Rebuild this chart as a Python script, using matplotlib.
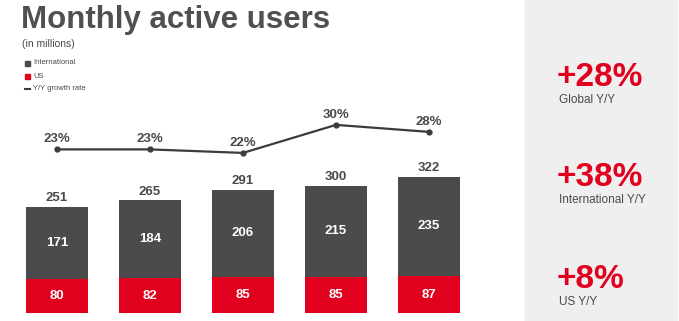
"""Monthly active users chart (stacked bars + Y/Y growth line)."""
import matplotlib
matplotlib.use("Agg")
import matplotlib.pyplot as plt
from matplotlib.patches import Rectangle

periods = ["Q1", "Q2", "Q3", "Q4", "Q5"]
us = [80, 82, 85, 85, 87]
international = [171, 184, 206, 215, 235]
totals = [251, 265, 291, 300, 322]
growth = [23, 23, 22, 30, 28]

side_values = ["+28%", "+38%", "+8%"]
side_labels = ["Global Y/Y", "International Y/Y", "US Y/Y"]

GRAY = "#4b4b4b"
RED = "#e1001e"
TEXT = "#4a4a4a"
FONT = ["Liberation Sans", "DejaVu Sans"]

W, H = 679, 321
fig = plt.figure(figsize=(W / 100, H / 100), dpi=100)
fig.patch.set_facecolor("white")


def fx(px):
    return px / W


def fy(py):
    return 1 - py / H


# right gray panel
fig.patches.append(Rectangle((fx(525), 0), fx(677) - fx(525), 1,
                             transform=fig.transFigure, color="#efefef", zorder=0))

# bar axes: 0..490 px wide, bottom at y=313, top at y=100
left, right, top, bottom = 0, 490, 100, 313
ax = fig.add_axes([fx(left), fy(bottom), fx(right - left), (bottom - top) / H])
ax.set_facecolor("none")
x = list(range(len(periods)))
ax.bar(x, us, width=0.656, color=RED, zorder=2)
ax.bar(x, international, bottom=us, width=0.656, color=GRAY, zorder=2)
ax.set_xlim(-57 / 93, (right - 57) / 93)
ax.set_ylim(0, (bottom - top) / 0.4237)
ax.axis("off")

for i in x:
    ax.text(i, us[i] / 2, str(us[i]), ha="center", va="center", color="white",
            fontsize=9.5, fontweight="bold", family=FONT)
    ax.text(i, us[i] + international[i] / 2, str(international[i]), ha="center",
            va="center", color="white", fontsize=9.5, fontweight="bold", family=FONT)
    ax.text(i, totals[i] + 6, str(totals[i]), ha="center", va="bottom", color=TEXT,
            fontsize=9.5, fontweight="bold", family=FONT)

# growth line on a twin axis
ax2 = ax.twinx()
ax2.set_ylim(-23.7, 37.1)
ax2.plot(x, growth, color="#3c3c3c", lw=1.6, marker="o", ms=3.5, zorder=3)
ax2.axis("off")
for i in x:
    ax2.text(i, growth[i] + 1.2, f"{growth[i]}%", ha="center", va="bottom",
             color=TEXT, fontsize=9.5, fontweight="bold", family=FONT)

# title and subtitle
fig.text(fx(21), fy(28), "Monthly active users", fontsize=22.5, fontweight="bold",
         color="#505050", family=FONT, va="baseline")
fig.text(fx(22), fy(44), "(in millions)", fontsize=7.5, color=TEXT, va="center", family=FONT)

# legend
leg_y = [63, 76, 89]
leg_txt = ["International", "US", "Y/Y growth rate"]
for yy, t, c in zip(leg_y, leg_txt, [GRAY, RED, None]):
    if c:
        fig.patches.append(Rectangle((fx(25), fy(yy + 2.5)), fx(5), 5 / H,
                                     transform=fig.transFigure, color=c))
    else:
        fig.lines.append(plt.Line2D([fx(25), fx(30)], [fy(yy), fy(yy)],
                                    transform=fig.transFigure, color="#3c3c3c", lw=1.5))
    fig.text(fx(33), fy(yy), t, fontsize=5.5, color=TEXT, va="center", family=FONT)

# side panel stats
side_base = [88, 188, 290]
for yy, v, lab in zip(side_base, side_values, side_labels):
    fig.text(fx(557), fy(yy - 2), v, fontsize=24, fontweight="bold", color=RED,
             va="baseline", family=FONT)
    fig.text(fx(559), fy(yy + 6), lab, fontsize=8.5, color=TEXT, va="top", family=FONT)

fig.savefig("out.png", dpi=100)
